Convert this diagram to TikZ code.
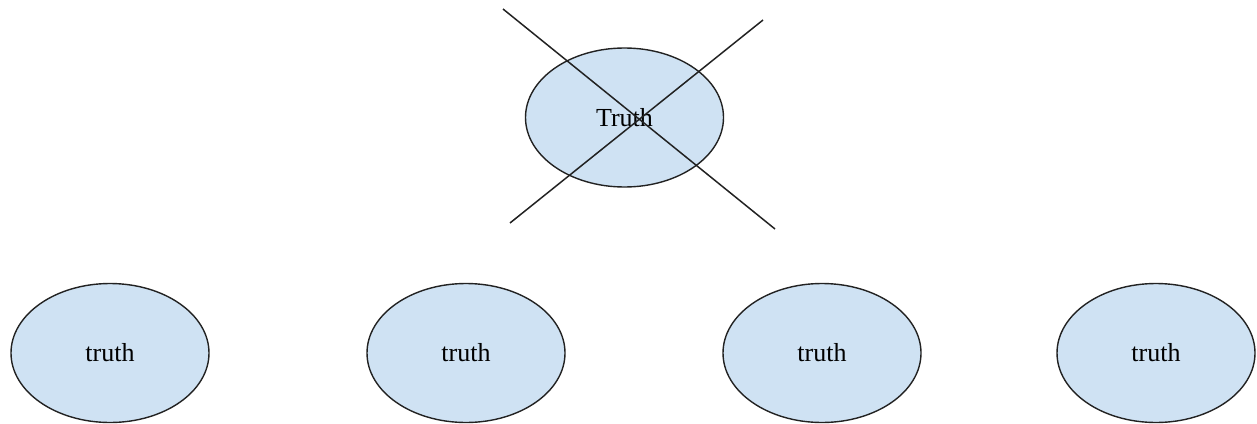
\documentclass[tikz,border=0pt]{standalone}
\usepackage{fontspec}
\setmainfont{Liberation Serif}
\usetikzlibrary{shapes.geometric}
\definecolor{bubblefill}{HTML}{CFE2F3}
\definecolor{inkline}{HTML}{222222}
\begin{document}
\begin{tikzpicture}[x=1pt,y=-1pt,
  bubble/.style={ellipse, draw=inkline, line width=1.4pt, fill=bubblefill,
    minimum width=198pt, minimum height=139pt, inner sep=0pt,
    font=\fontsize{26}{30}\selectfont},
  strike/.style={draw=inkline, line width=1.5pt}]
\useasboundingbox (0,0) rectangle (1257,423);

% the struck-out top concept
\node[bubble] (top) at (624.5,117.5) {Truth};
\coordinate (xa1) at (503,9);
\coordinate (xa2) at (775,229);
\coordinate (xb1) at (763,20);
\coordinate (xb2) at (510,223);
\draw[strike] (xa1) -- (xa2);
\draw[strike] (xb1) -- (xb2);

% row of lower-case concepts
\node[bubble] (t1) at (110,353) {truth};
\node[bubble] (t2) at (466,353) {truth};
\node[bubble] (t3) at (822,353) {truth};
\node[bubble] (t4) at (1156,353) {truth};
\end{tikzpicture}
\end{document}
